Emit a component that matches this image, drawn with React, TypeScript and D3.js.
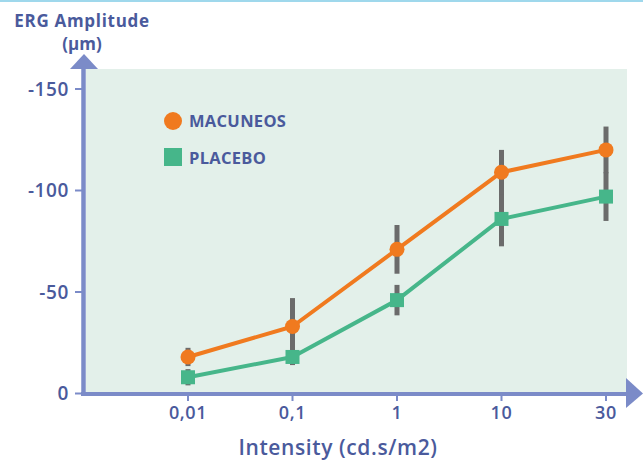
import React from 'react';
import { scaleLinear, scalePoint, line } from 'd3';

// intensities (cd.s/m2), shown as categories
const intensities = ['0,01', '0,1', '1', '10', '30'];
const yTicks = [0, -50, -100, -150];

// ERG amplitude (µm), with error bar half-widths
const macuneos = [-18, -33, -71, -109, -120];
const macuneosErr = [4.5, 14, 12, 11, 11.5];
const placebo = [-8, -18, -46, -86, -97];
const placeboErr = [4, 4, 7.5, 13.5, 12];

const W = 643;
const H = 462;
const axisColor = '#7b8bc8';
const textColor = '#4a5a9c';
const orange = '#f07a1f';
const green = '#46b68a';
const errColor = '#6b6b6b';
const font = '"Open Sans", Lato, sans-serif';

const App = () => {
  const x = scalePoint<string>().domain(intensities).range([188, 606]);
  const y = scaleLinear().domain([0, -150]).range([393.5, 89]);

  const path = (vals: number[]) =>
    line<number>()
      .x((d, i) => x(intensities[i]) as number)
      .y((d) => y(d))(vals) as string;

  const errBars = (vals: number[], errs: number[], key: string) =>
    vals.map((v, i) => (
      <line
        key={key + i}
        x1={x(intensities[i])}
        x2={x(intensities[i])}
        y1={y(v - errs[i])}
        y2={y(v + errs[i])}
        stroke={errColor}
        strokeWidth={5}
      />
    ));

  return (
    <div style={{ position: 'absolute', left: 0, top: 0 }}>
      <svg width={W} height={H} style={{ display: 'block', background: '#fff' }}>
        <line x1={0} x2={W} y1={1} y2={1} stroke="#9fd8ec" strokeWidth={2} />

        {/* plot area */}
        <rect x={86} y={69} width={541} height={323} fill="#e3f0ea" />

        {/* error bars */}
        {errBars(placebo, placeboErr, 'p')}
        {errBars(macuneos, macuneosErr, 'm')}

        {/* lines */}
        <path d={path(placebo)} fill="none" stroke={green} strokeWidth={4} strokeLinejoin="round" />
        <path d={path(macuneos)} fill="none" stroke={orange} strokeWidth={4} strokeLinejoin="round" />

        {placebo.map((v, i) => (
          <rect
            key={'ps' + i}
            x={(x(intensities[i]) as number) - 7}
            y={y(v) - 7}
            width={14}
            height={14}
            fill={green}
          />
        ))}
        {macuneos.map((v, i) => (
          <circle key={'mc' + i} cx={x(intensities[i])} cy={y(v)} r={7.5} fill={orange} />
        ))}

        {/* y axis */}
        <line x1={83.5} x2={83.5} y1={396} y2={66} stroke={axisColor} strokeWidth={4.5} />
        <path d="M70,69 L84,54 L98,69 Z" fill={axisColor} />
        {yTicks.map((t) => (
          <g key={'yt' + t}>
            <line x1={75} x2={83} y1={y(t)} y2={y(t)} stroke={axisColor} strokeWidth={2} />
            <text
              x={69}
              y={y(t)}
              dy="0.36em"
              textAnchor="end"
              fontFamily={font}
              fontWeight={600}
              fontSize={19}
              letterSpacing={0.6}
              fill={textColor}
            >
              {t}
            </text>
          </g>
        ))}

        {/* x axis */}
        <line x1={81} x2={628} y1={394} y2={394} stroke={axisColor} strokeWidth={4} />
        <path d="M626,378 L643,393.5 L626,408 Z" fill={axisColor} />
        {intensities.map((c) => (
          <g key={'xt' + c}>
            <line x1={x(c)} x2={x(c)} y1={394} y2={401} stroke={axisColor} strokeWidth={2} />
            <text
              x={x(c)}
              y={419}
              textAnchor="middle"
              fontFamily={font}
              fontWeight={600}
              fontSize={18}
              letterSpacing={0.6}
              fill={textColor}
            >
              {c}
            </text>
          </g>
        ))}

        {/* titles */}
        <text x={82} y={27} textAnchor="middle" fontFamily={font} fontWeight={700} fontSize={17} letterSpacing={0.7} fill={textColor}>
          ERG Amplitude
        </text>
        <text x={82} y={50} textAnchor="middle" fontFamily={font} fontWeight={700} fontSize={17} fill={textColor}>
          (µm)
        </text>
        <text x={338} y={455} textAnchor="middle" fontFamily={font} fontWeight={600} fontSize={21} letterSpacing={0.6} fill={textColor}>
          Intensity (cd.s/m2)
        </text>

        {/* legend */}
        <circle cx={173} cy={121} r={9} fill={orange} />
        <text x={189} y={121} dy="0.36em" fontFamily={font} fontWeight={700} fontSize={16.5} letterSpacing={0.3} fill={textColor}>
          MACUNEOS
        </text>
        <rect x={164} y={148} width={18} height={18} fill={green} />
        <text x={189} y={158} dy="0.36em" fontFamily={font} fontWeight={700} fontSize={16.5} letterSpacing={0.3} fill={textColor}>
          PLACEBO
        </text>
      </svg>
    </div>
  );
};

export default App;
